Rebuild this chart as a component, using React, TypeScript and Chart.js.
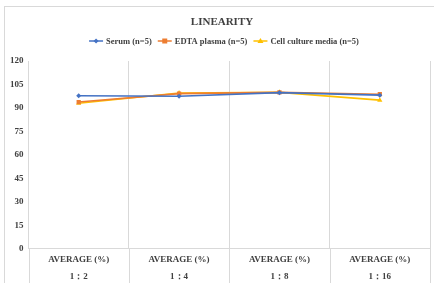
import React, { useEffect, useRef } from "react";
import { Chart, registerables } from "chart.js";

Chart.register(...registerables);

const categories = [
  ["AVERAGE (%)", "1：2"],
  ["AVERAGE (%)", "1：4"],
  ["AVERAGE (%)", "1：8"],
  ["AVERAGE (%)", "1：16"],
];
const seriesNames = ["Serum (n=5)", "EDTA plasma (n=5)", "Cell culture media (n=5)"];
const serum = [97.8, 97.5, 99.8, 98.2];
const edta = [93.8, 99.2, 100, 98.8];
const cell = [93.0, 99.6, 100, 95.0];
const yTicks = [0, 15, 30, 45, 60, 75, 90, 105, 120];
const chartTitle = "LINEARITY";

const colors = ["#4472C4", "#ED7D31", "#FFC000"];
const styles = ["rectRot", "rect", "triangle"];
const FONT = '"Liberation Serif", "Times New Roman", serif';

const decoPlugin = {
  id: "deco",
  beforeDraw(chart: any) {
    const ctx = chart.ctx;
    ctx.save();
    ctx.fillStyle = "#ffffff";
    ctx.fillRect(0, 0, chart.width, chart.height);
    ctx.strokeStyle = "#d9d9d9";
    ctx.lineWidth = 1;
    ctx.strokeRect(4.5, 6.5, chart.width + 10, chart.height + 10);
    // grid extensions below the axis
    const { left, right, bottom } = chart.chartArea;
    const n = categories.length;
    ctx.beginPath();
    for (let k = 0; k <= n; k++) {
      const x = Math.round(left + (k * (right - left)) / n) + 0.5;
      ctx.moveTo(x, bottom);
      ctx.lineTo(x, chart.height);
    }
    ctx.stroke();
    ctx.restore();
  },
  afterDraw(chart: any) {
    const ctx = chart.ctx;
    ctx.save();
    ctx.fillStyle = "#404040";
    ctx.font = `bold 11px ${FONT}`;
    ctx.textAlign = "center";
    ctx.textBaseline = "middle";
    ctx.fillText(chartTitle, 222, 22);

    ctx.font = `bold 8.5px ${FONT}`;
    const lineW = 14;
    const gap = 3;
    const itemGap = 6;
    const widths = seriesNames.map((n) => ctx.measureText(n).width);
    const total = widths.reduce((a, w) => a + lineW + gap + w, 0) + itemGap * (seriesNames.length - 1);
    let x = 224 - total / 2;
    const y = 41;
    seriesNames.forEach((name, i) => {
      ctx.strokeStyle = colors[i];
      ctx.lineWidth = 1.5;
      ctx.beginPath();
      ctx.moveTo(x, y);
      ctx.lineTo(x + lineW, y);
      ctx.stroke();
      ctx.fillStyle = colors[i];
      const cx = x + lineW / 2;
      ctx.beginPath();
      if (i === 0) {
        ctx.moveTo(cx, y - 2.5);
        ctx.lineTo(cx + 2.5, y);
        ctx.lineTo(cx, y + 2.5);
        ctx.lineTo(cx - 2.5, y);
      } else if (i === 1) {
        ctx.rect(cx - 2.5, y - 2.5, 5, 5);
      } else {
        ctx.moveTo(cx, y - 3);
        ctx.lineTo(cx + 3, y + 2);
        ctx.lineTo(cx - 3, y + 2);
      }
      ctx.closePath();
      ctx.fill();
      ctx.fillStyle = "#404040";
      ctx.textAlign = "left";
      ctx.fillText(name, x + lineW + gap, y + 0.5);
      x += lineW + gap + widths[i] + itemGap;
    });
    ctx.restore();
  },
};

export default function App() {
  const ref = useRef<HTMLCanvasElement | null>(null);
  useEffect(() => {
    if (!ref.current) return;
    const data = [serum, edta, cell];
    const chart = new Chart(ref.current, {
      type: "line",
      data: {
        labels: categories,
        datasets: seriesNames.map((name, i) => ({
          label: name,
          data: data[i],
          borderColor: colors[i],
          backgroundColor: colors[i],
          borderWidth: 1.6,
          pointStyle: styles[i] as any,
          pointRadius: i === 0 ? 2.5 : 3,
          pointBorderWidth: 0,
          tension: 0,
        })),
      },
      options: {
        animation: false,
        responsive: false,
        layout: { padding: { top: 61, left: 5, right: 2, bottom: -5 } },
        plugins: {
          legend: { display: false },
          title: { display: false },
          tooltip: { enabled: false },
        },
        scales: {
          x: {
            offset: true,
            grid: {
              offset: true,
              color: "#d9d9d9",
              drawTicks: false,
              lineWidth: 1,
            },
            border: { color: "#d9d9d9" },
            ticks: {
              color: "#404040",
              padding: 2.5,
              maxRotation: 0,
              autoSkip: false,
              font: { family: FONT, size: 9, weight: "bold", lineHeight: 1.89 },
            },
          },
          y: {
            min: 0,
            max: 120,
            grid: { display: false, drawTicks: false },
            border: { display: false },
            afterBuildTicks: (axis: any) => {
              axis.ticks = yTicks.map((v) => ({ value: v }));
            },
            ticks: {
              color: "#404040",
              padding: 5,
              font: { family: FONT, size: 9, weight: "bold" },
            },
          },
        },
      },
      plugins: [decoPlugin],
    });
    return () => chart.destroy();
  }, []);
  return (
    <div style={{ position: "absolute", left: 0, top: 0, width: 434, height: 283 }}>
      <canvas ref={ref} width={434} height={283} style={{ width: 434, height: 283, display: "block" }} />
    </div>
  );
}
